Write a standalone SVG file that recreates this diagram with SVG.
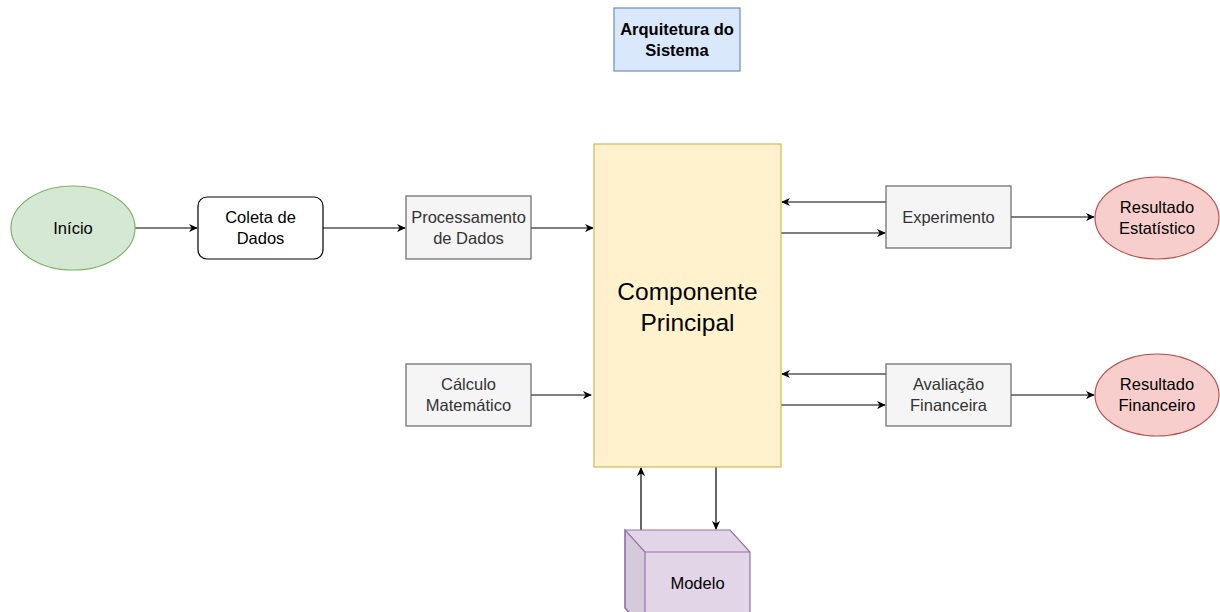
<svg xmlns="http://www.w3.org/2000/svg" width="1220" height="612" viewBox="0 0 1220 612">
<style>
text{font-family:"Liberation Sans",Arial,sans-serif;font-size:16.5px;text-anchor:middle;fill:#333333}
.dark{fill:#000000}
.title{font-size:16.5px;font-weight:bold}
.big{font-size:24.5px}
.gray{fill:#f5f5f5;stroke:#666666;stroke-width:1.2}
.edge{stroke:#000000;stroke-width:1.2;fill:none;marker-end:url(#arr)}
</style>
<defs>
<marker id="arr" viewBox="0 0 10 10" refX="9" refY="5" markerWidth="9" markerHeight="9" markerUnits="userSpaceOnUse" orient="auto">
<path d="M0,0.5 L10,5 L0,9.5 L3,5 Z" fill="#000000"/>
</marker>
</defs>
<rect width="1220" height="612" fill="#ffffff"/>
<g id="connectors">
<line class="edge" x1="135" y1="228" x2="197" y2="228"/>
<line class="edge" x1="323" y1="228" x2="405" y2="228"/>
<line class="edge" x1="531" y1="228" x2="593" y2="228"/>
<line class="edge" x1="531" y1="395" x2="591" y2="395"/>
<line class="edge" x1="886" y1="202" x2="782" y2="202"/>
<line class="edge" x1="781" y1="233" x2="885" y2="233"/>
<line class="edge" x1="886" y1="374" x2="782" y2="374"/>
<line class="edge" x1="781" y1="405" x2="885" y2="405"/>
<line class="edge" x1="1011" y1="217" x2="1094" y2="217"/>
<line class="edge" x1="1011" y1="395" x2="1094" y2="395"/>
<line class="edge" x1="641" y1="530" x2="641" y2="468"/>
<line class="edge" x1="716" y1="467" x2="716" y2="529"/>
</g>
<g id="title">
<rect x="614" y="8" width="126" height="63" fill="#dae8fc" stroke="#6c8ebf" stroke-width="1.2"/>
<text class="dark title" x="677" y="35">Arquitetura do</text>
<text class="dark title" x="677" y="56">Sistema</text>
</g>
<g id="inicio">
<ellipse cx="73" cy="228" rx="62" ry="42" fill="#d5e8d4" stroke="#82b366" stroke-width="1.2"/>
<text class="dark" x="73" y="234">Início</text>
</g>
<g id="coleta">
<rect x="198" y="197" width="125" height="62" rx="9" fill="#ffffff" stroke="#000000" stroke-width="1.2"/>
<text class="dark" x="260.5" y="223">Coleta de</text>
<text class="dark" x="260.5" y="244">Dados</text>
</g>
<g id="processamento">
<rect class="gray" x="406" y="196" width="125" height="63"/>
<text x="468.5" y="223">Processamento</text>
<text x="468.5" y="244">de Dados</text>
</g>
<g id="componente">
<rect x="594" y="144" width="187" height="323" fill="#fff2cc" stroke="#d6b656" stroke-width="1.2"/>
<text class="dark big" x="687.5" y="300">Componente</text>
<text class="dark big" x="687.5" y="331">Principal</text>
</g>
<g id="calculo">
<rect class="gray" x="406" y="364" width="125" height="62"/>
<text x="468.5" y="390">Cálculo</text>
<text x="468.5" y="411">Matemático</text>
</g>
<g id="experimento">
<rect class="gray" x="886" y="186" width="125" height="62"/>
<text x="948.5" y="223">Experimento</text>
</g>
<g id="avaliacao">
<rect class="gray" x="886" y="364" width="125" height="62"/>
<text x="948.5" y="390">Avaliação</text>
<text x="948.5" y="411">Financeira</text>
</g>
<g id="resultado-estatistico">
<ellipse cx="1157" cy="218" rx="62" ry="41" fill="#f8cecc" stroke="#b85450" stroke-width="1.2"/>
<text class="dark" x="1157" y="213">Resultado</text>
<text class="dark" x="1157" y="234">Estatístico</text>
</g>
<g id="resultado-financeiro">
<ellipse cx="1157" cy="395" rx="62" ry="41" fill="#f8cecc" stroke="#b85450" stroke-width="1.2"/>
<text class="dark" x="1157" y="390">Resultado</text>
<text class="dark" x="1157" y="411">Financeiro</text>
</g>
<g id="modelo">
<path d="M625,530 L730,530 L750,552 L750,630 L645,630 L625,608 Z" fill="#e1d5e7" stroke="#9673a6" stroke-width="1.2"/>
<path d="M625,530 L645,552 L645,630 L625,608 Z" fill="#000000" fill-opacity="0.05" stroke="#9673a6" stroke-width="1.2"/>
<path d="M645,552 L750,552" fill="none" stroke="#9673a6" stroke-width="1.2"/>
<text class="dark" x="697.5" y="589">Modelo</text>
</g>
</svg>
